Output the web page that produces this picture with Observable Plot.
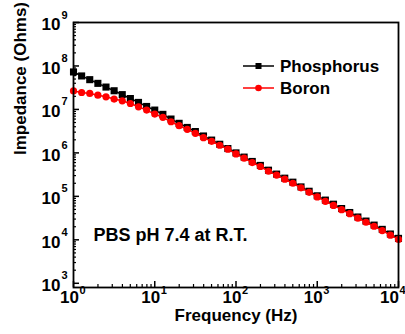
<!DOCTYPE html>
<html><head><meta charset="utf-8">
<script src="https://cdn.jsdelivr.net/npm/d3@7"></script>
<script src="https://cdn.jsdelivr.net/npm/@observablehq/plot@0.6"></script>
<style>
html,body{margin:0;padding:0;background:#fff;}
#chart{width:405px;height:334px;}
</style></head><body><div id="chart"></div>
<script>
const frequency = [1, 1.259, 1.585, 1.995, 2.512, 3.162, 3.981, 5.012, 6.31, 7.943,
  10, 12.59, 15.85, 19.95, 25.12, 31.62, 39.81, 50.12, 63.1, 79.43,
  100, 125.9, 158.5, 199.5, 251.2, 316.2, 398.1, 501.2, 631, 794.3,
  1000, 1259, 1585, 1995, 2512, 3162, 3981, 5012, 6310, 7943, 10000];
const phosphorus = [7.28e7, 5.89e7, 4.84e7, 3.98e7, 3.27e7, 2.69e7, 2.19e7, 1.78e7, 1.45e7, 1.17e7,
  9.66e6, 7.70e6, 6.01e6, 4.79e6, 3.85e6, 3.10e6, 2.45e6, 1.97e6, 1.58e6, 1.26e6,
  1.00e6, 8.0e5, 6.35e5, 5.15e5, 4.0e5, 3.25e5, 2.62e5, 2.12e5, 1.65e5, 1.31e5,
  1.03e5, 8.2e4, 6.6e4, 5.25e4, 4.25e4, 3.35e4, 2.7e4, 2.18e4, 1.74e4, 1.36e4, 1.08e4];
const boron = [2.67e7, 2.45e7, 2.33e7, 2.13e7, 1.95e7, 1.73e7, 1.58e7, 1.37e7, 1.15e7, 9.66e6,
  7.82e6, 6.58e6, 5.21e6, 4.22e6, 3.49e6, 2.82e6, 2.24e6, 1.85e6, 1.50e6, 1.22e6,
  9.48e5, 7.57e5, 6.0e5, 4.86e5, 3.78e5, 3.08e5, 2.48e5, 2.0e5, 1.57e5, 1.24e5,
  9.7e4, 7.7e4, 6.2e4, 4.95e4, 4.0e4, 3.15e4, 2.54e4, 2.05e4, 1.63e4, 1.28e4, 1.02e4];
const seriesNames = ["Phosphorus", "Boron"];
const seriesColors = ["#000000", "#ff0000"];
const xMajor = [1, 10, 100, 1000, 10000];
const yMajor = [1e3, 1e4, 1e5, 1e6, 1e7, 1e8, 1e9];
const xTitle = "Frequency (Hz)";
const yTitle = "Impedance (Ohms)";
const note = "PBS pH 7.4 at R.T.";

const xMinor = [];
xMajor.slice(0, -1).forEach(p => { for (let k = 2; k <= 9; k++) xMinor.push(p * k); });
const yMinor = [];
yMajor.slice(0, -1).forEach(p => { for (let k = 2; k <= 9; k++) yMinor.push(p * k); });

const W = 405, H = 334, mL = 73, mR = 7, mT = 22, mB = 47;
const pW = W - mL - mR, pH = H - mT - mB;
const pData = frequency.map((f, i) => ({f, z: phosphorus[i]}));
const bData = frequency.map((f, i) => ({f, z: boron[i]}));
const font = "'Liberation Sans', Arial, sans-serif";
const exp = d => String(Math.round(Math.log10(d)));
const xInner = xMajor.slice(0, -1), xLast = xMajor.slice(-1);
const lab = {fontSize: 17, fontWeight: "bold", fill: "#000"};
const sup = {fontSize: 11, fontWeight: "bold", fill: "#000"};

const chart = Plot.plot({
  width: W, height: H,
  marginLeft: mL, marginRight: mR, marginTop: mT, marginBottom: mB,
  style: {fontFamily: font, background: "#fff", color: "#000", overflow: "visible"},
  x: {type: "log", domain: [1, 1e4], axis: null},
  y: {type: "log", domain: [8e2, 1e9], axis: null},
  marks: [
    Plot.tickY(yMinor, {y: d => d, insetRight: pW - 3, stroke: "#000", strokeWidth: 1.2}),
    Plot.tickY(yMajor, {y: d => d, insetRight: pW - 6, stroke: "#000", strokeWidth: 1.5}),
    Plot.tickX(xMinor, {x: d => d, insetTop: pH - 3, stroke: "#000", strokeWidth: 1.2}),
    Plot.tickX(xMajor, {x: d => d, insetTop: pH - 6, stroke: "#000", strokeWidth: 1.5}),
    Plot.line(pData, {x: "f", y: "z", stroke: seriesColors[0], strokeWidth: 1.5}),
    Plot.dot(pData, {x: "f", y: "z", symbol: "square", r: 4, fill: seriesColors[0], stroke: null}),
    Plot.line(bData, {x: "f", y: "z", stroke: seriesColors[1], strokeWidth: 1.5}),
    Plot.dot(bData, {x: "f", y: "z", r: 3.6, fill: seriesColors[1], stroke: null}),
    Plot.frame({stroke: "#000", strokeWidth: 1.8}),
    Plot.text(yMajor, {y: d => d, frameAnchor: "left", text: () => "10", textAnchor: "end", dx: -13, dy: 2.5, ...lab}),
    Plot.text(yMajor, {y: d => d, frameAnchor: "left", text: exp, textAnchor: "start", dx: -12, dy: -7.5, ...sup}),
    Plot.text(xInner, {x: d => d, frameAnchor: "bottom", text: () => "10", textAnchor: "middle", dx: -4, dy: 15, ...lab}),
    Plot.text(xInner, {x: d => d, frameAnchor: "bottom", text: exp, textAnchor: "start", dx: 6, dy: 6, ...sup}),
    Plot.text(xLast, {x: d => d, frameAnchor: "bottom", text: () => "10", textAnchor: "middle", dx: -9, dy: 15, ...lab}),
    Plot.text(xLast, {x: d => d, frameAnchor: "bottom", text: exp, textAnchor: "start", dx: 1, dy: 6, ...sup}),
    Plot.text([xTitle], {frameAnchor: "bottom", text: d => d, dy: 33, ...lab}),
    Plot.text([yTitle], {frameAnchor: "left", text: d => d, rotate: -90, dx: -53, ...lab}),
    Plot.text([note], {frameAnchor: "bottom-left", text: d => d, textAnchor: "start", dx: 20, dy: -47, fontSize: 18, fontWeight: "bold", fill: "#000"})
  ]
});
document.getElementById("chart").appendChild(chart);

// legend
const svg = d3.select(chart);
const leg = svg.append("g").attr("font-family", font).attr("font-weight", "bold")
  .attr("font-size", 17).attr("text-anchor", "start");
seriesNames.forEach((name, i) => {
  const y = 66 + i * 22;
  leg.append("line").attr("x1", 243).attr("x2", 274).attr("y1", y).attr("y2", y)
    .attr("stroke", seriesColors[i]).attr("stroke-width", 1.5);
  if (i === 0) leg.append("rect").attr("x", 255.5).attr("y", y - 3).attr("width", 6).attr("height", 6).attr("fill", seriesColors[i]);
  else leg.append("circle").attr("cx", 258.5).attr("cy", y).attr("r", 3.3).attr("fill", seriesColors[i]);
  leg.append("text").attr("x", 280).attr("y", y + 6).attr("fill", "#000").text(name);
});
</script></body></html>
